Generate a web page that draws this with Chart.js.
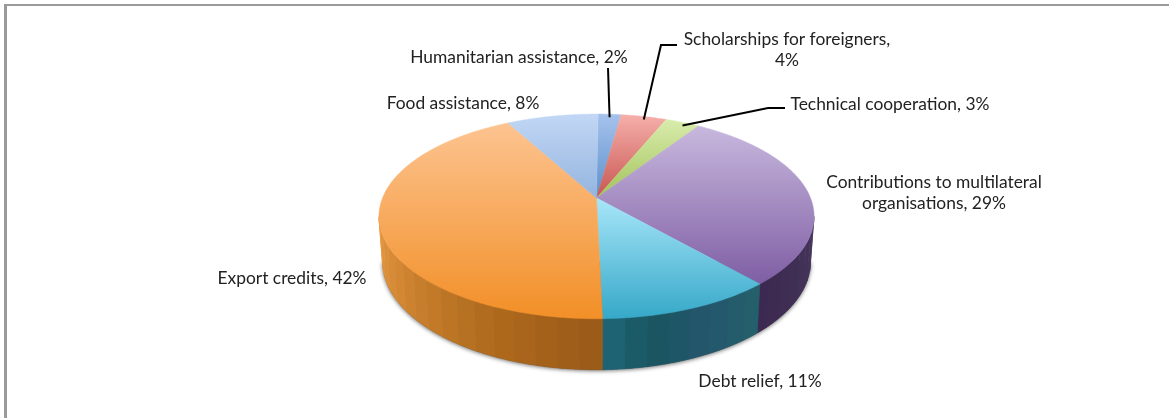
<!DOCTYPE html>
<html>
<head>
<meta charset="utf-8">
<title>Aid by type</title>
<script src="https://cdn.jsdelivr.net/npm/chart.js@4/dist/chart.umd.js"></script>
<style>
    html, body { margin: 0; background: #fff; overflow: hidden; }
    #frame { position: absolute; left: 4px; top: 4px; right: 0; bottom: 0; border-left: 3px solid #9a9a9a; border-top: 2px solid #9a9a9a; }
    #graph { position: absolute; left: 0; top: 0; }
</style>
</head>
<body>
<div id="frame"></div>
<canvas id="graph" width="1169" height="418"></canvas>
<script>
const categories = ['Humanitarian assistance', 'Scholarships for foreigners', 'Technical cooperation',
    'Contributions to multilateral organisations', 'Debt relief', 'Export credits', 'Food assistance'];
const shares = [2, 4, 3, 29, 11, 42, 8];

// top face gradient, upper colour then lower colour
const faceUpper = ['#a6c2ec', '#f6b0ab', '#dcefb2', '#cdbfe2', '#a8e6f9', '#fdc695', '#c2d7f5'];
const faceLower = ['#5a90cb', '#c85550', '#a3c25b', '#7f5ea4', '#35a8c8', '#f28f27', '#94b4de'];

// rim colours going clockwise, only the slices that face the viewer have a rim
const rimTones = [null, null, null,
    ['#46365b', '#3b2850'],
    ['#245f6b', '#24566c', '#1a5561', '#1f6c7e'],
    ['#9b5b19', '#ad681c', '#c27a28', '#d98c38', '#e79a45'],
    null];

// where each label goes, leader is an optional elbow running to the slice
const callouts = [
    { x: 519, y: 63, leaderFrom: [608, 68] },
    { x: 787, y: 45, wrapAfter: 'foreigners,', leaderFrom: [677, 45], elbow: [661, 45] },
    { x: 890, y: 110, leaderFrom: [785, 108], elbow: [768, 108] },
    { x: 934, y: 188, wrapAfter: 'multilateral' },
    { x: 760, y: 387 },
    { x: 292, y: 284 },
    { x: 463, y: 109 }
];

const TILT = 0.18;        // how much nearer the front edge sits
const SQUASH = 0.4627;    // vertical scale of the disc
const RIM_STEP = 5 * Math.PI / 180;
const FRONT_START = Math.PI / 2 + Math.asin(TILT);
const FRONT_END = 3 * Math.PI / 2 - Math.asin(TILT);

// clockwise angle from 12 o'clock to a point on the tilted disc
function projectRim(arc, theta) {
    let u = Math.sin(theta);
    let v = -Math.cos(theta);
    let w = 1 / (1 - TILT * v);
    return {
        x: arc.x + arc.outerRadius * u * w,
        y: arc.y + arc.outerRadius * SQUASH * v * w
    };
}

// same point on the underside of the disc
function dropRim(arc, p) {
    return {
        x: arc.x + (p.x - arc.x) * 0.984,
        y: p.y + 51 - (319 - p.y) * 0.057
    };
}

function mixColor(a, b, t) {
    let out = '#';
    for (let i = 1; i < 7; i += 2) {
        let from = parseInt(a.substr(i, 2), 16);
        let to = parseInt(b.substr(i, 2), 16);
        out += Math.round(from + (to - from) * t).toString(16).padStart(2, '0');
    }
    return out;
}

function toneAt(tones, t) {
    let pos = Math.min(t, 0.999) * (tones.length - 1);
    let i = Math.floor(pos);
    return mixColor(tones[i], tones[i + 1], pos - i);
}

// trace a stretch of the rim, both ends included
function traceRim(ctx, arc, from, to, lower) {
    let steps = Math.max(2, Math.ceil(Math.abs(to - from) / 0.01));
    for (let k = 0; k <= steps; k++) {
        let p = projectRim(arc, from + (to - from) * k / steps);
        if (lower) p = dropRim(arc, p);
        ctx.lineTo(p.x, p.y);
    }
}

class Arc3d extends Chart.ArcElement {
    draw(ctx) {
        let start = this.startAngle + Math.PI / 2;
        let end = this.endAngle + Math.PI / 2;
        let tones = rimTones[this.$context.dataIndex];

        // rim first, in flat facets
        if (tones) {
            let from = Math.max(start, FRONT_START);
            let to = Math.min(end, FRONT_END);
            for (let a = from; a < to; a += RIM_STEP) {
                let b = Math.min(a + RIM_STEP, to);
                ctx.fillStyle = toneAt(tones, (a - from) / (to - from));
                ctx.strokeStyle = ctx.fillStyle;
                ctx.lineWidth = 0.6;
                ctx.beginPath();
                traceRim(ctx, this, a, b, false);
                traceRim(ctx, this, b, a, true);
                ctx.closePath();
                ctx.fill();
                ctx.stroke();
            }
        }

        ctx.fillStyle = this.options.backgroundColor;
        ctx.strokeStyle = this.options.backgroundColor;
        ctx.lineWidth = 0.5;
        ctx.beginPath();
        ctx.moveTo(this.x, this.y);
        traceRim(ctx, this, start, end, false);
        ctx.closePath();
        ctx.fill();
        ctx.stroke();
    }
}
Arc3d.id = 'arc3d';
Arc3d.defaults = Chart.ArcElement.defaults;
Arc3d.defaultRoutes = Chart.ArcElement.defaultRoutes;

class Pie3d extends Chart.PieController {}
Pie3d.id = 'pie3d';
Pie3d.defaults = { dataElementType: 'arc3d' };

Chart.register(Arc3d, Pie3d);

// soft drop shadow under the whole disc
const discShadow = {
    id: 'discShadow',
    beforeDatasetsDraw(chart) {
        let arc = chart.getDatasetMeta(0).data[0];
        let ctx = chart.ctx;
        ctx.save();
        ctx.shadowColor = 'rgba(0, 0, 0, 0.6)';
        ctx.shadowBlur = 4;
        ctx.shadowOffsetY = 1;
        ctx.fillStyle = '#555';
        ctx.beginPath();
        traceRim(ctx, arc, FRONT_START, FRONT_END, true);
        ctx.closePath();
        ctx.fill();
        ctx.restore();
    }
};

const calloutLabels = {
    id: 'calloutLabels',
    afterDatasetsDraw(chart) {
        let ctx = chart.ctx;
        let arcs = chart.getDatasetMeta(0).data;
        ctx.save();
        ctx.font = '17.4px Lato';
        ctx.fillStyle = '#222';
        ctx.textAlign = 'center';
        ctx.strokeStyle = '#000';
        ctx.lineWidth = 2;

        categories.forEach(function (name, i) {
            let spot = callouts[i];
            let text = name + ', ' + shares[i] + '%';
            let lines = [text];
            if (spot.wrapAfter) {
                let cut = text.indexOf(spot.wrapAfter) + spot.wrapAfter.length;
                lines = [text.slice(0, cut), text.slice(cut + 1)];
            }
            lines.forEach(function (line, n) {
                ctx.fillText(line, spot.x, spot.y + n * 21);
            });

            if (spot.leaderFrom) {
                let arc = arcs[i];
                let mid = (arc.startAngle + arc.endAngle) / 2 + Math.PI / 2;
                let tip = projectRim(arc, mid);
                ctx.beginPath();
                ctx.moveTo(spot.leaderFrom[0], spot.leaderFrom[1]);
                if (spot.elbow) ctx.lineTo(spot.elbow[0], spot.elbow[1]);
                ctx.lineTo(tip.x, tip.y + 3);
                ctx.stroke();
            }
        });
        ctx.restore();
    }
};

const chartCtx = document.getElementById('graph').getContext('2d');

function faceGradient(upper, lower, i) {
    // slices that reach the front edge run the full height of the disc
    let bottom = i >= 4 && i <= 5 ? 319 : (i == 3 ? 284 : 198);
    let g = chartCtx.createLinearGradient(0, i == 4 ? 198 : 114, 0, bottom);
    g.addColorStop(0, upper);
    g.addColorStop(1, lower);
    return g;
}

new Chart(chartCtx, {
    type: 'pie3d',
    data: {
        labels: categories,
        datasets: [{
            data: shares,
            backgroundColor: faceUpper.map(function (c, i) { return faceGradient(c, faceLower[i], i); }),
            borderWidth: 0
        }]
    },
    options: {
        responsive: false,
        animation: false,
        radius: 214,
        rotation: 0.5,
        layout: { padding: { left: 24, bottom: 22 } },
        plugins: { legend: { display: false }, tooltip: { enabled: false } }
    },
    plugins: [discShadow, calloutLabels]
});
</script>
</body>
</html>
